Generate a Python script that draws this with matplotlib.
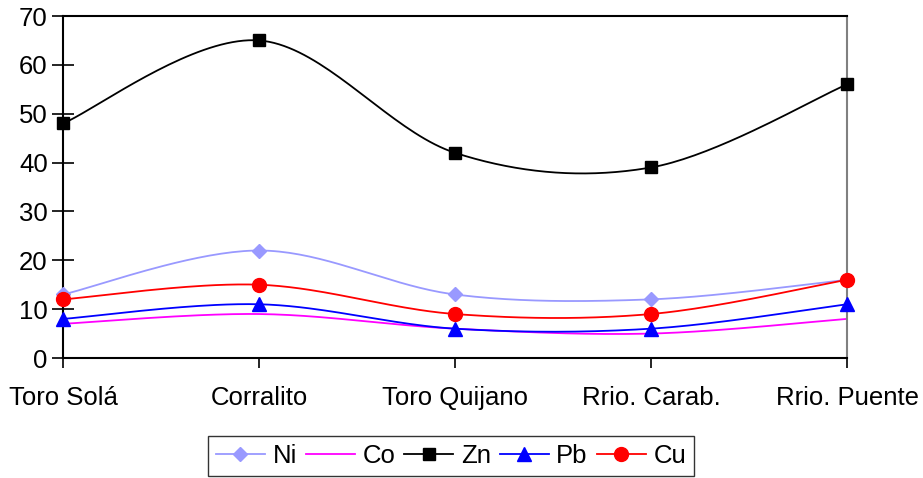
import numpy as np
import matplotlib
matplotlib.use("Agg")
import matplotlib.pyplot as plt
from matplotlib.lines import Line2D

categories = ["Toro Solá", "Corralito", "Toro Quijano", "Rrio. Carab.", "Rrio. Puente"]
ni = [13, 22, 13, 12, 16]
co = [7, 9, 6, 5, 8]
zn = [48, 65, 42, 39, 56]
pb = [8, 11, 6, 6, 11]
cu = [12, 15, 9, 9, 16]

plt.rcParams['font.family'] = ['Liberation Sans', 'DejaVu Sans']


def smooth(xs, ys, n=40):
    xs = np.asarray(xs, float)
    ys = np.asarray(ys, float)
    px = np.concatenate([[xs[0]], xs, [xs[-1]]])
    py = np.concatenate([[ys[0]], ys, [ys[-1]]])
    ox, oy = [], []
    t = np.linspace(0, 1, n)
    for i in range(1, len(px) - 2):
        p0 = np.array([px[i - 1], py[i - 1]])
        p1 = np.array([px[i], py[i]])
        p2 = np.array([px[i + 1], py[i + 1]])
        p3 = np.array([px[i + 2], py[i + 2]])
        c1 = p1 + (p2 - p0) / 6
        c2 = p2 - (p3 - p1) / 6
        b = ((1 - t) ** 3)[:, None] * p1 + (3 * (1 - t) ** 2 * t)[:, None] * c1 \
            + (3 * (1 - t) * t ** 2)[:, None] * c2 + (t ** 3)[:, None] * p2
        ox.extend(b[:, 0]); oy.extend(b[:, 1])
    return np.array(ox), np.array(oy)


fig = plt.figure(figsize=(9.23, 4.78), dpi=100)
ax = fig.add_axes([63 / 923, 1 - 358 / 478, (847 - 63) / 923, (358 - 16) / 478])

x = np.arange(len(categories))
series = [
    ("Ni", ni, "#9999FF", "D", 7),
    ("Co", co, "#FF00FF", None, 0),
    ("Zn", zn, "#000000", "s", 9),
    ("Pb", pb, "#0000FF", "^", 10),
    ("Cu", cu, "#FF0000", "o", 10),
]
handles = []
for name, vals, col, mk, ms in series:
    sx, sy = smooth(x, vals)
    ax.plot(sx, sy, color=col, lw=1.3, zorder=2)
    if mk:
        ax.plot(x, vals, linestyle='none', marker=mk, color=col, markersize=ms,
                clip_on=False, zorder=3)
    handles.append(Line2D([], [], color=col, lw=1.3, marker=mk if mk else None,
                          markersize=ms))

ax.set_xlim(0, 4)
ax.set_ylim(0, 70)
ax.set_yticks(range(0, 71, 10))
ax.set_xticks(x)
ax.set_xticklabels(categories)
for s in ax.spines.values():
    s.set_color('black')
    s.set_linewidth(1.5)
ax.spines['right'].set_color('#808080')
ax.tick_params(axis='y', direction='inout', length=16, width=1.2, labelsize=18.5, pad=3)
ax.tick_params(axis='x', direction='out', length=7, width=1.2, labelsize=18.5, pad=13)

leg = fig.legend(handles, [s[0] for s in series], loc='center',
                 bbox_to_anchor=(451 / 923, 1 - 456 / 478), ncol=5, fontsize=18.5,
                 frameon=True, fancybox=False, edgecolor='black', handlelength=1.9,
                 columnspacing=0.35, handletextpad=0.3, borderpad=0.3,
                 borderaxespad=0)
leg.get_frame().set_linewidth(1.0)

fig.savefig("out.png", dpi=100)
